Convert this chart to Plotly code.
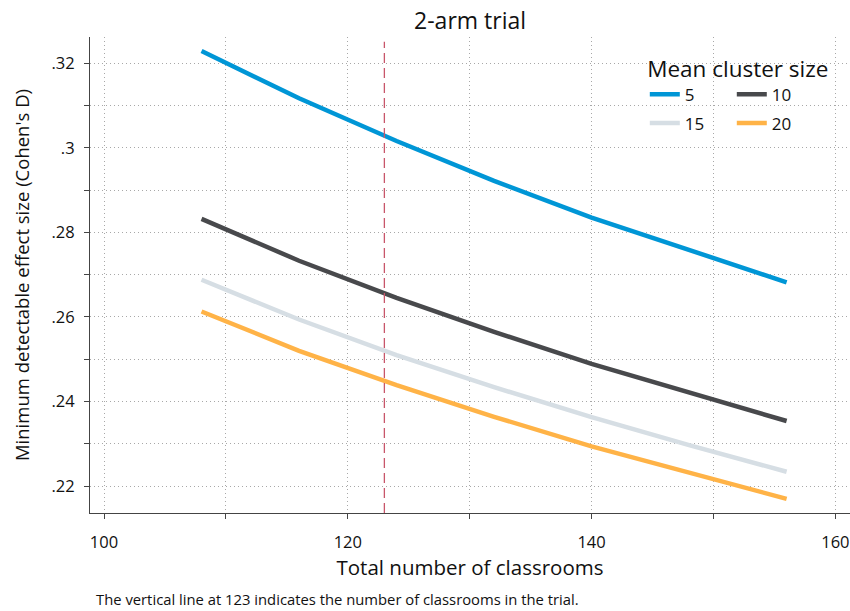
import plotly.graph_objects as go

classrooms = [108, 116, 124, 132, 140, 148, 156]
mdes_5 = [0.3229, 0.3117, 0.3016, 0.2922, 0.2835, 0.2758, 0.2682]
mdes_10 = [0.2832, 0.2733, 0.2645, 0.2565, 0.2489, 0.2421, 0.2354]
mdes_15 = [0.2688, 0.2594, 0.2510, 0.2434, 0.2363, 0.2297, 0.2234]
mdes_20 = [0.2613, 0.2520, 0.2439, 0.2364, 0.2294, 0.2231, 0.2170]
series_names = ["5", "10", "15", "20"]
colors = ["#0096D6", "#48494C", "#D6DEE4", "#FFB347"]
trial_classrooms = 123

y_tickvals = [0.22, 0.24, 0.26, 0.28, 0.30, 0.32]
y_ticktext = [".22", ".24", ".26", ".28", ".3", ".32"]
x_tickvals = [100, 120, 140, 160]

FONT = "Open Sans"
fig = go.Figure()
legends = ["legend", "legend", "legend2", "legend2"]
for name, vals, col, lg in zip(series_names, [mdes_5, mdes_10, mdes_15, mdes_20], colors, legends):
    fig.add_trace(go.Scatter(x=classrooms, y=vals, mode="lines", name=name,
                             line=dict(color=col, width=4.5), legend=lg))

fig.add_vline(x=trial_classrooms, line=dict(color="#C8566A", width=1.3, dash="10px,5px"),
              y0=0, y1=0.99)

GRID = "#A8A8A8"
DOT = "1px,3px"
fig.update_xaxes(range=[98.85, 161.2], tickvals=x_tickvals, ticks="outside", ticklen=5,
                 tickcolor="#444", showline=True, linecolor="#444", linewidth=1.2,
                 zeroline=False, showgrid=True, gridcolor=GRID, griddash=DOT, gridwidth=1,
                 minor=dict(dtick=10, tick0=100, ticks="outside", ticklen=5, tickcolor="#444",
                            showgrid=True, gridcolor=GRID, griddash=DOT),
                 tickfont=dict(size=16.5, color="#111"), ticklabelstandoff=9,
                 title=dict(text="Total number of classrooms", font=dict(size=20.5, color="#111"),
                            standoff=5))
fig.update_yaxes(range=[0.21365, 0.3262], tickvals=y_tickvals, ticktext=y_ticktext,
                 ticks="outside", ticklen=5, tickcolor="#444", showline=True,
                 linecolor="#444", linewidth=1.2, zeroline=False,
                 showgrid=True, gridcolor=GRID, griddash=DOT, gridwidth=1,
                 minor=dict(dtick=0.01, tick0=0.21, ticks="outside", ticklen=5, tickcolor="#444",
                            showgrid=True, gridcolor=GRID, griddash=DOT),
                 tickfont=dict(size=16.5, color="#111"), ticklabelstandoff=6,
                 title=dict(text="Minimum detectable effect size (Cohen's D)",
                            font=dict(size=18.5, color="#111"), standoff=16))

leg_common = dict(orientation="h", xanchor="left", yanchor="top", entrywidth=42,
                  font=dict(size=17, color="#111"), bgcolor="rgba(255,255,255,0)",
                  itemwidth=30)
fig.update_layout(
    width=850, height=611,
    margin=dict(l=90, r=0, t=37, b=98, autoexpand=False),
    paper_bgcolor="white", plot_bgcolor="white",
    font=dict(family=FONT, color="#111"),
    title=dict(text="2-arm trial", x=0.553, xanchor="center", y=0.966, yanchor="middle",
               font=dict(size=23, color="#111")),
    legend=dict(x=0.73, y=0.978, title=dict(text="Mean cluster size", side="top center",
                                             font=dict(size=22.5)), **leg_common),
    legend2=dict(x=0.73, y=0.856, **leg_common),
    showlegend=True,
    annotations=[dict(text="The vertical line at 123 indicates the number of classrooms in the trial.",
                      xref="paper", yref="paper", x=0.005, y=-0.18, xanchor="left", yanchor="middle",
                      showarrow=False, font=dict(size=14.8, color="#111"))],
)
fig.write_html("out.html", post_script="document.body.style.margin='0px';",
               config={"displayModeBar": False})
